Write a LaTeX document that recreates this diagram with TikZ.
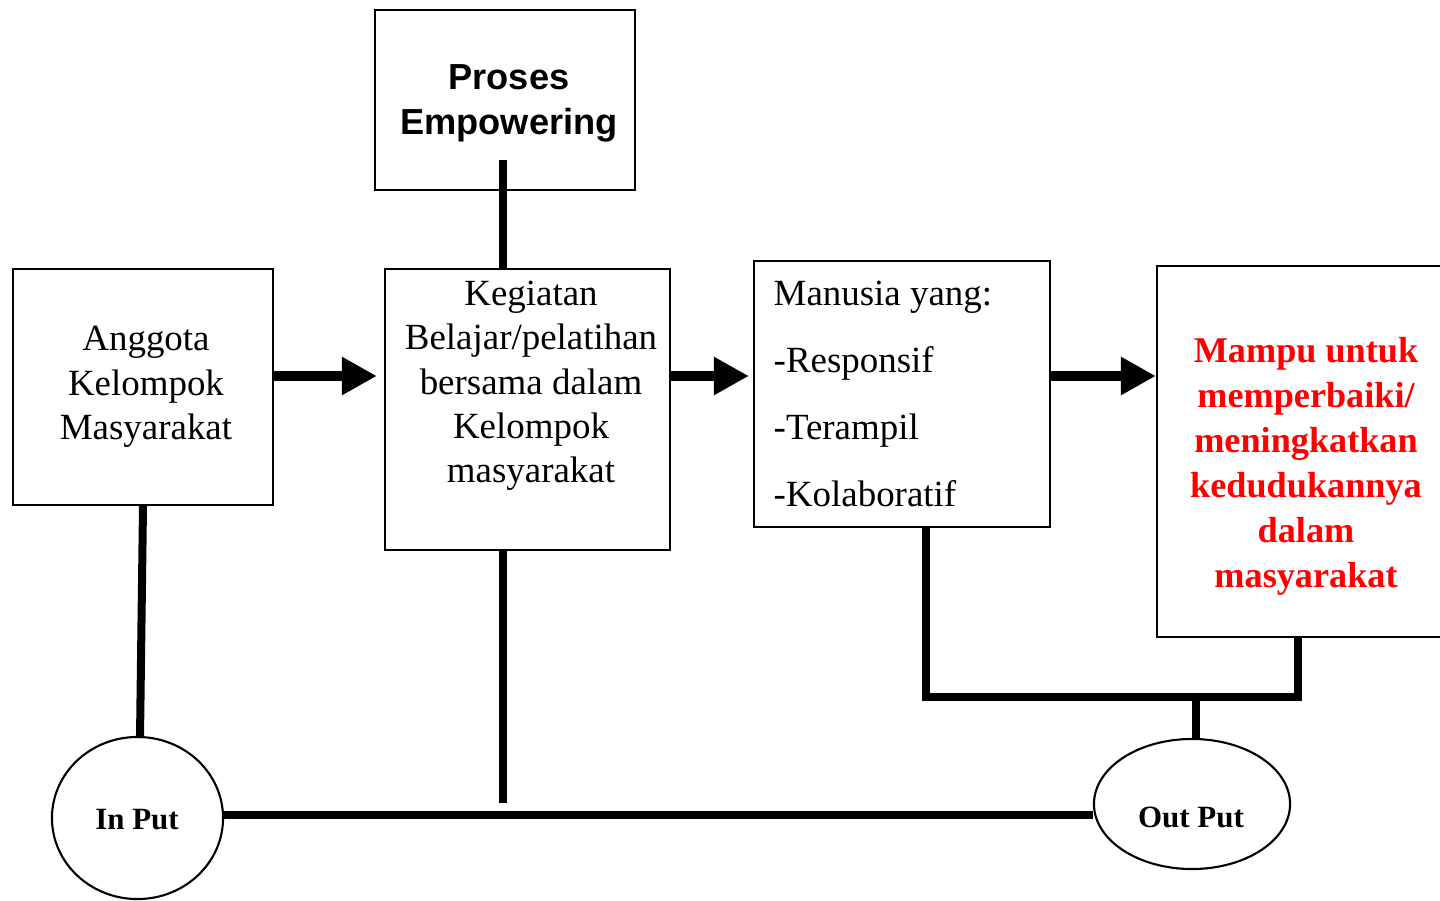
\documentclass[tikz,border=0pt]{standalone}
\usepackage{fontspec}
\setmainfont{Liberation Serif}
\setsansfont{Liberation Sans}
\usetikzlibrary{arrows.meta,shapes.geometric}
\definecolor{redtext}{RGB}{255,0,0}
\begin{document}
\begin{tikzpicture}[x=0.01cm,y=-0.01cm,
  box/.style={draw,line width=0.6pt,inner sep=0pt},
  oval/.style={draw,ellipse,line width=0.6pt,inner sep=0pt},
  sertext/.style={inner sep=0pt,align=center,font=\fontsize{10.5}{12.6}\selectfont},
  listtext/.style={inner sep=0pt,align=left,anchor=west,font=\fontsize{10.5}{19}\selectfont},
  sanstext/.style={inner sep=0pt,align=center,font=\fontsize{10.3}{12.8}\selectfont\sffamily\bfseries},
  redlabel/.style={inner sep=0pt,align=center,text=redtext,font=\fontsize{10.3}{12.8}\selectfont\bfseries},
  smalltext/.style={inner sep=0pt,font=\fontsize{8.8}{10}\selectfont\bfseries},
  conn/.style={line width=0.08cm},
  arr/.style={line width=0.1cm,-{Triangle[length=0.35cm,width=0.36cm]}}]
\useasboundingbox (0,0) rectangle (1440,900);
\clip (0,0) rectangle (1440,900);

% boxes
\node[box,minimum width=2.60cm,minimum height=1.80cm] (pebox) at (505,100) {};
\node[sanstext] (pet) at (509,103) {Proses\\Empowering};

\node[box,minimum width=2.60cm,minimum height=2.36cm] (angbox) at (143,387) {};
\node[sertext] (angt) at (146,387) {Anggota\\Kelompok\\Masyarakat};

\node[box,minimum width=2.85cm,minimum height=2.81cm] (kegbox) at (527.5,409.5) {};
\node[sertext] (kegt) at (531,386) {Kegiatan\\Belajar/pelatihan\\bersama dalam\\Kelompok\\masyarakat};

\node[box,minimum width=2.96cm,minimum height=2.66cm] (manbox) at (902,394) {};
\node[listtext] (mant) at (773,394) {Manusia yang:\\-Responsif\\-Terampil\\-Kolaboratif};

\node[box,minimum width=2.98cm,minimum height=3.71cm] (mambox) at (1306,451.5) {};
\node[redlabel] (mamt) at (1306,466) {Mampu untuk\\memperbaiki/\\meningkatkan\\kedudukannya\\dalam\\masyarakat};

\node[oval,minimum width=1.71cm,minimum height=1.62cm] (inp) at (137.5,818) {};
\node[smalltext] (inpt) at (137,820) {In Put};

\node[oval,minimum width=1.96cm,minimum height=1.30cm] (outp) at (1192,804) {};
\node[smalltext] (outpt) at (1191,817) {Out Put};

% connectors
\coordinate (pe1) at (503,160);
\draw[conn] (pe1) -- (pe1 |- kegbox.north);
\coordinate (ibot) at (140,738);
\draw[conn] (angbox.south) -- (ibot);
\coordinate (kend) at (503,803);
\draw[conn] (kend |- kegbox.south) -- (kend);
\coordinate (hy) at (0,815);
\draw[conn] (inp.east |- hy) -- (outp.west |- hy);
\coordinate (j1) at (926,697);
\coordinate (j2) at (1298,697);
\coordinate (j3) at (1196,697);
\draw[conn] (j1 |- manbox.south) -- (j1) -- (j2) -- (j2 |- mambox.south);
\draw[conn] (j3) -- (j3 |- outp.north);

% arrows
\coordinate (ay) at (0,376);
\draw[arr,shorten >=0.07cm] (angbox.east |- ay) -- (kegbox.west |- ay);
\draw[arr,shorten >=0.04cm] (kegbox.east |- ay) -- (manbox.west |- ay);
\draw[arr] (manbox.east |- ay) -- (mambox.west |- ay);
\end{tikzpicture}
\end{document}
